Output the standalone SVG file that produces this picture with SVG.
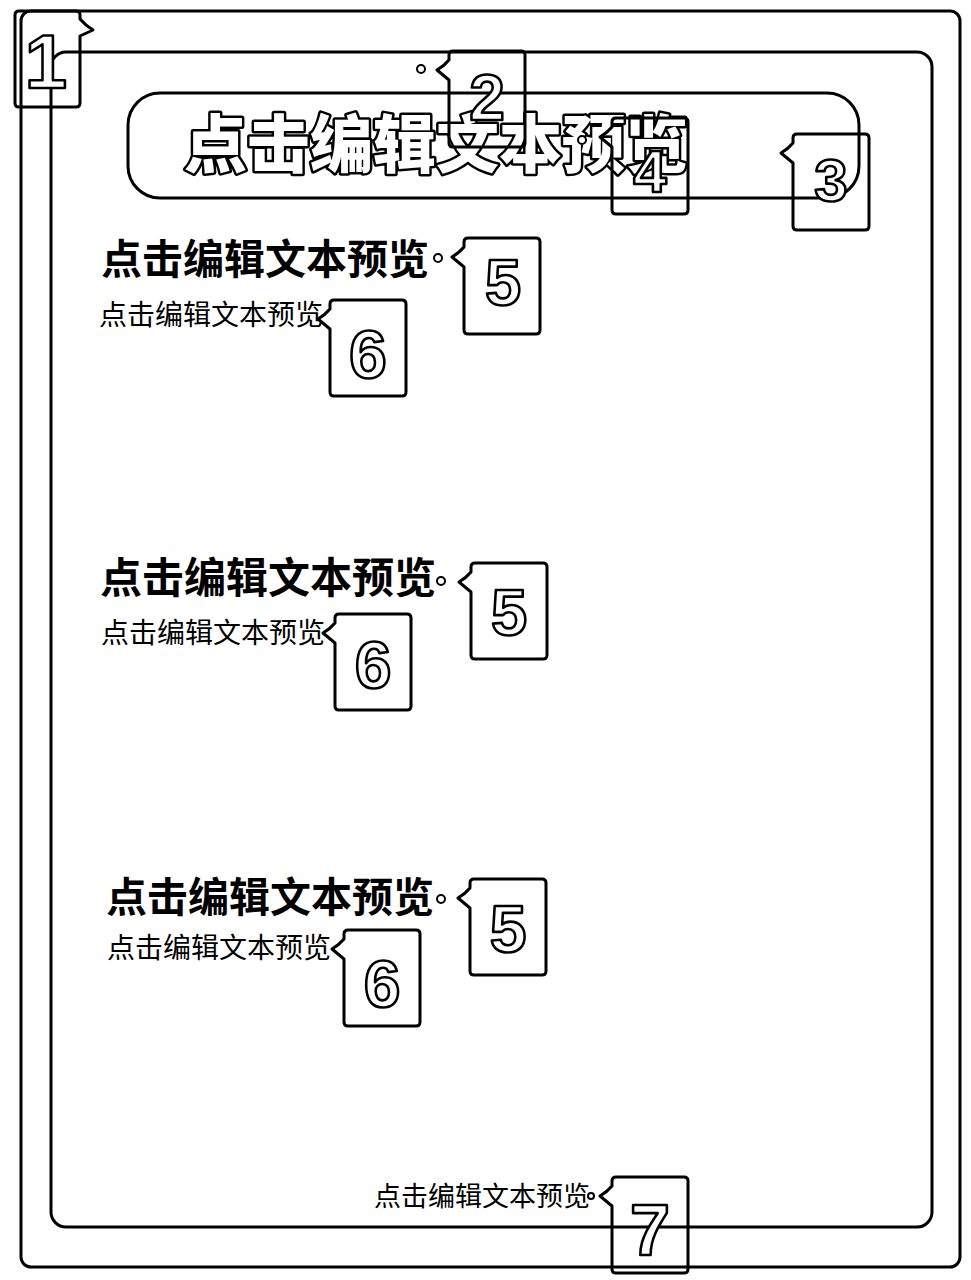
<svg xmlns="http://www.w3.org/2000/svg" xmlns:xlink="http://www.w3.org/1999/xlink" width="971" height="1280" viewBox="0 0 971 1280">
<style>
.frame{fill:none;stroke:#000;stroke-width:3}
.box{fill:none;stroke:#000;stroke-width:3;stroke-linejoin:round}
.dot{fill:#fff;stroke:#000;stroke-width:2}
.num{font-family:"Liberation Sans",Arial,sans-serif;font-weight:700;fill:#fff;stroke:#000;stroke-width:2.6;stroke-linejoin:round;text-anchor:middle}
.bold{font-family:"Noto Sans CJK SC",sans-serif;font-weight:700;fill:#000}
.small{font-family:"Noto Sans CJK SC",sans-serif;font-weight:400;fill:#000}
.title{font-family:"Noto Sans CJK SC",sans-serif;font-weight:900;fill:#fff;stroke:#000;stroke-width:5;stroke-linejoin:round;paint-order:stroke}
</style>
<defs>
<path id="callL" d="M4,0 H72 Q76,0 76,4 V92 Q76,96 72,96 H4 Q0,96 0,92 V29 L-12,19 Q-5,15 0,9 V4 Q0,0 4,0 Z"/>
<path id="callR" d="M4,0 H61 Q65,0 65,4 V8 Q70,14 78,19 L65,25 V92 Q65,96 61,96 H4 Q0,96 0,92 V4 Q0,0 4,0 Z"/>
</defs>
<rect width="971" height="1280" fill="#fff"/>
<g id="frames">
<rect class="frame" x="21" y="11" width="939" height="1256" rx="10"/>
<rect class="frame" x="51" y="52" width="881" height="1175" rx="15"/>
<rect class="frame" x="128" y="93" width="731" height="105" rx="32"/>
</g>
<g id="texts">
<text id="title" class="title" x="184" y="167" font-size="63">点击编辑文本预览</text>
<text id="h1" class="bold" x="101" y="274" font-size="41">点击编辑文本预览</text>
<text id="s1" class="small" x="99" y="325" font-size="28">点击编辑文本预览</text>
<text id="h2" class="bold" x="100" y="593" font-size="42">点击编辑文本预览</text>
<text id="s2" class="small" x="101" y="643" font-size="28">点击编辑文本预览</text>
<text id="h3" class="bold" x="106" y="912" font-size="41">点击编辑文本预览</text>
<text id="s3" class="small" x="107" y="958" font-size="28">点击编辑文本预览</text>
<text id="foot" class="small" x="374" y="1206" font-size="27">点击编辑文本预览</text>
</g>
<g id="connectors">
<circle class="dot" cx="421" cy="69" r="4"/>
<circle class="dot" cx="582" cy="140" r="4"/>
<circle class="dot" cx="438" cy="258" r="4"/>
<circle class="dot" cx="441" cy="581" r="4"/>
<circle class="dot" cx="441" cy="899" r="4"/>
<circle class="dot" cx="591" cy="1196" r="3"/>
</g>
<g id="callout1"><use href="#callR" class="box" x="15" y="11"/><text class="num" x="46" y="88" font-size="76">1</text></g>
<g id="callout2"><use href="#callL" class="box" x="449" y="51"/><text class="num" x="487" y="120" font-size="64">2</text></g>
<g id="callout3"><use href="#callL" class="box" x="793" y="134"/><text class="num" x="831" y="201" font-size="60">3</text></g>
<g id="callout4"><use href="#callL" class="box" x="612" y="118"/><text class="num" x="650" y="192" font-size="60">4</text></g>
<g id="callout5a"><use href="#callL" class="box" x="464" y="238"/><text class="num" x="503" y="305" font-size="65">5</text></g>
<g id="callout6a"><use href="#callL" class="box" x="330" y="300"/><text class="num" x="368" y="378" font-size="68">6</text></g>
<g id="callout5b"><use href="#callL" class="box" x="471" y="563"/><text class="num" x="509" y="635" font-size="65">5</text></g>
<g id="callout6b"><use href="#callL" class="box" x="335" y="614"/><text class="num" x="373" y="688" font-size="66">6</text></g>
<g id="callout5c"><use href="#callL" class="box" x="470" y="879"/><text class="num" x="508" y="952" font-size="66">5</text></g>
<g id="callout6c"><use href="#callL" class="box" x="344" y="930"/><text class="num" x="382" y="1007" font-size="66">6</text></g>
<g id="callout7"><use href="#callL" class="box" x="612" y="1177"/><text class="num" x="650" y="1255" font-size="72">7</text></g>
</svg>
